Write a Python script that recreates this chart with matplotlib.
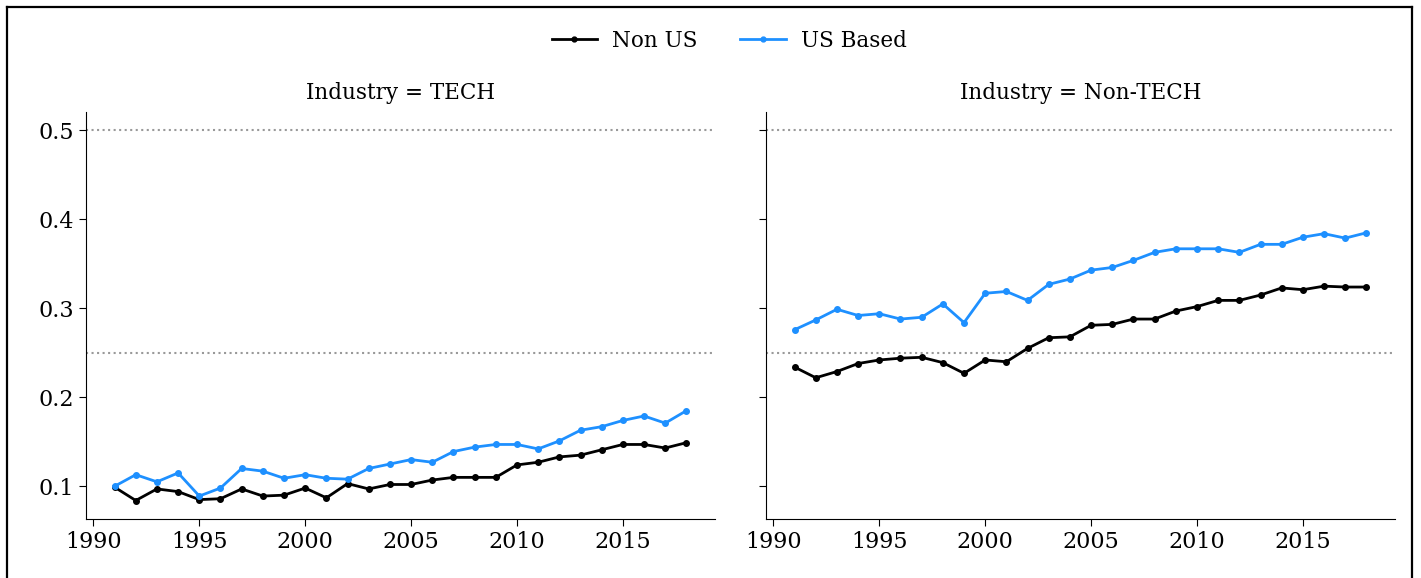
import matplotlib
matplotlib.use("Agg")
import matplotlib.pyplot as plt
from matplotlib.lines import Line2D

plt.rcParams['font.family'] = ['DejaVu Serif']

years = list(range(1991, 2019))

# Industry = TECH
tech_non_us = [0.099, 0.084, 0.097, 0.094, 0.085, 0.086, 0.097, 0.089, 0.090, 0.098,
               0.087, 0.103, 0.097, 0.102, 0.102, 0.107, 0.110, 0.110, 0.110, 0.124,
               0.127, 0.133, 0.135, 0.141, 0.147, 0.147, 0.143, 0.149]
tech_us = [0.100, 0.113, 0.105, 0.115, 0.089, 0.098, 0.120, 0.117, 0.109, 0.113,
           0.109, 0.108, 0.120, 0.125, 0.130, 0.127, 0.139, 0.144, 0.147, 0.147,
           0.142, 0.151, 0.163, 0.167, 0.174, 0.179, 0.171, 0.185]

# Industry = Non-TECH
nontech_non_us = [0.234, 0.222, 0.229, 0.238, 0.242, 0.244, 0.245, 0.239, 0.227, 0.242,
                  0.240, 0.255, 0.267, 0.268, 0.281, 0.282, 0.288, 0.288, 0.297, 0.302,
                  0.309, 0.309, 0.315, 0.323, 0.321, 0.325, 0.324, 0.324]
nontech_us = [0.276, 0.287, 0.299, 0.292, 0.294, 0.288, 0.290, 0.305, 0.284, 0.317,
              0.319, 0.309, 0.327, 0.333, 0.343, 0.346, 0.354, 0.363, 0.367, 0.367,
              0.367, 0.363, 0.372, 0.372, 0.380, 0.384, 0.379, 0.385]

panels = [("Industry = TECH", tech_non_us, tech_us),
          ("Industry = Non-TECH", nontech_non_us, nontech_us)]
labels = ["Non US", "US Based"]
colors = ["black", "#1e90ff"]
ref_lines = [0.25, 0.5]

fig, axes = plt.subplots(1, 2, figsize=(14.21, 5.78), dpi=100, sharey=True)
fig.subplots_adjust(left=86/1421, right=1395/1421, bottom=1-519/578, top=1-112/578, wspace=51/629)

for ax, (title, non_us, us) in zip(axes, panels):
    for h in ref_lines:
        ax.axhline(h, color="grey", linestyle=":", linewidth=1.5, alpha=0.8)
    ax.plot(years, non_us, color=colors[0], marker=".", markersize=8, linewidth=2, label=labels[0])
    ax.plot(years, us, color=colors[1], marker=".", markersize=8, linewidth=2, label=labels[1])
    ax.set_title(title, fontsize=15.5, pad=9)
    ax.spines["top"].set_visible(False)
    ax.spines["right"].set_visible(False)
    ax.tick_params(labelsize=16, length=5)
    ax.set_xticks([1990, 1995, 2000, 2005, 2010, 2015])

axes[0].set_yticks([0.1, 0.2, 0.3, 0.4, 0.5])

handles = [Line2D([], [], color=c, marker=".", markersize=7, linewidth=2) for c in colors]
fig.legend(handles, labels, loc="center", bbox_to_anchor=(729/1421, 1-41/578), ncol=2,
           frameon=False, fontsize=15.5, handlelength=2.1, handletextpad=0.7, columnspacing=2.0)

# screenshot frame
frame = [((7, 7), (7, 578)), ((7, 1412), (7, 7)), ((1412, 1412), (7, 578))]
for xs, ys in frame:
    fig.add_artist(Line2D([x/1421 for x in xs], [1-y/578 for y in ys], color="black", linewidth=1.6))

fig.savefig("out.png", dpi=100)
